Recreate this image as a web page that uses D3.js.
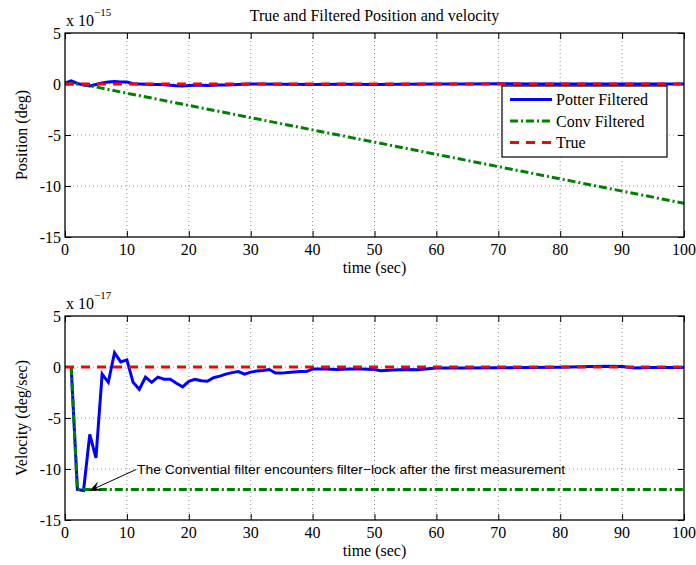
<!DOCTYPE html>
<html>
<head>
<meta charset="utf-8">
<script src="https://cdn.jsdelivr.net/npm/d3@7"></script>
<style>
  body { margin: 0; background: #fff; }
  text { font-family: "Liberation Serif", "Times New Roman", serif; fill: #000; }
</style>
</head>
<body>
<div id="canvas"></div>
<script>
// ---- data (values in units of the axis exponent) ----
const timeTicks = [0, 10, 20, 30, 40, 50, 60, 70, 80, 90, 100];
const yTicks = [5, 0, -5, -10, -15];

// position (x 1e-15 deg)
const potterPosTime = [0,1,2,3,4,5,6,7,8,9,10,11,12,13,14,15,16,17,18,19,20,21,22,23,24,25,26,27,28,29,30,35,40,45,50,55,60,65,70,75,80,85,90,95,100];
const potterPos = [0.1,0.3,0.05,-0.1,-0.2,-0.05,0.1,0.2,0.25,0.2,0.2,0.02,0,-0.02,-0.05,-0.05,-0.08,-0.12,-0.18,-0.2,-0.15,-0.12,-0.13,-0.15,-0.13,-0.1,-0.1,-0.08,-0.05,-0.02,0,-0.03,-0.05,-0.03,-0.05,-0.02,0,0,0.02,0,0,0.01,0,0,0];
const convPosTime = [0,1,2,3,10,20,30,40,50,60,70,80,90,100];
const convPos = [0,0,0,-0.05,-0.9,-2.1,-3.3,-4.5,-5.7,-6.9,-8.1,-9.3,-10.5,-11.7];
const truePosTime = [0,100];
const truePos = [0,0];

// velocity (x 1e-17 deg/sec)
const potterVelTime = [1,2,3,4,5,6,7,8,9,10,11,12,13,14,15,16,17,18,19,20,21,22,23,24,25,26,27,28,29,30,31,32,33,34,35,36,37,38,39,40,42,44,46,48,50,51,53,55,57,60,65,70,75,80,85,88,90,92,95,100];
const potterVel = [0,-12,-12.1,-6.6,-8.9,-0.7,-1.5,1.4,0.5,0.7,-1.5,-2.2,-1.0,-1.5,-1.0,-1.2,-1.2,-1.6,-1.95,-1.4,-1.2,-1.35,-1.4,-1.05,-0.9,-0.7,-0.55,-0.45,-0.7,-0.5,-0.4,-0.35,-0.25,-0.6,-0.6,-0.55,-0.5,-0.45,-0.45,-0.2,-0.2,-0.25,-0.2,-0.2,-0.25,-0.37,-0.3,-0.25,-0.27,-0.1,-0.1,-0.08,-0.05,-0.03,0.05,0.07,0.05,-0.1,-0.05,-0.05];
const convVelTime = [1,2,100];
const convVel = [0,-12,-12];
const trueVelTime = [0,100];
const trueVel = [0,0];

const seriesNames = ["Potter Filtered", "Conv Filtered", "True"];
const seriesColors = ["#0000ff", "#008000", "#ff0000"];
const seriesDash = [null, "8,3,2,3", "9,7"];

// ---- drawing ----
let drawing = d3.select("#canvas")
    .append("svg")
    .attr("width", 696)
    .attr("height", 565);

drawing.append("rect").attr("width", 696).attr("height", 565).attr("fill", "#fff");

let xLeft = 65, xRight = 684;

function zip(t, v) { return t.map((d, i) => [d, v[i]]); }

function drawPanel(top, bottom, series, yLabel, exponent, id) {
    let x = d3.scaleLinear().domain([0, 100]).range([xLeft, xRight]);
    let y = d3.scaleLinear().domain([-15, 5]).range([bottom, top]);
    let g = drawing.append("g");

    // dotted grid
    g.selectAll(".vgrid").data(timeTicks.slice(1, -1)).enter().append("line")
        .attr("x1", d => x(d)).attr("x2", d => x(d))
        .attr("y1", top).attr("y2", bottom)
        .attr("stroke", "#777").attr("stroke-width", 0.8).attr("stroke-dasharray", "1,3");
    g.selectAll(".hgrid").data(yTicks.slice(1, -1)).enter().append("line")
        .attr("x1", xLeft).attr("x2", xRight)
        .attr("y1", d => y(d)).attr("y2", d => y(d))
        .attr("stroke", "#777").attr("stroke-width", 0.8).attr("stroke-dasharray", "1,3");

    // ticks (inward, all four sides)
    let bottomAxis = d3.axisBottom(x).tickValues(timeTicks).tickSize(-6).tickFormat("");
    let topAxis = d3.axisTop(x).tickValues(timeTicks).tickSize(-6).tickFormat("");
    let leftAxis = d3.axisLeft(y).tickValues(yTicks).tickSize(-6).tickFormat("");
    let rightAxis = d3.axisRight(y).tickValues(yTicks).tickSize(-6).tickFormat("");
    [[bottomAxis, `translate(0,${bottom})`], [topAxis, `translate(0,${top})`],
     [leftAxis, `translate(${xLeft},0)`], [rightAxis, `translate(${xRight},0)`]].forEach(a => {
        let ax = g.append("g").attr("transform", a[1]).call(a[0]);
        ax.select(".domain").remove();
        ax.selectAll("line").attr("stroke", "#000").attr("stroke-width", 1);
    });

    // tick labels
    g.selectAll(".xl").data(timeTicks).enter().append("text")
        .attr("x", d => x(d)).attr("y", bottom + 18)
        .attr("text-anchor", "middle").attr("font-size", 16).text(d => d);
    g.selectAll(".yl").data(yTicks).enter().append("text")
        .attr("x", xLeft - 4).attr("y", d => y(d)).attr("dy", "0.35em")
        .attr("text-anchor", "end").attr("font-size", 16).text(d => d < 0 ? "-" + Math.abs(d) : d);

    // clip
    drawing.append("clipPath").attr("id", "clip" + id)
        .append("rect").attr("x", xLeft).attr("y", top).attr("width", xRight - xLeft).attr("height", bottom - top);

    let line = d3.line().x(d => x(d[0])).y(d => y(d[1]));
    series.forEach((s, i) => {
        g.append("path").datum(s)
            .attr("d", line)
            .attr("clip-path", `url(#clip${id})`)
            .attr("fill", "none")
            .attr("stroke", seriesColors[i])
            .attr("stroke-width", 3)
            .attr("stroke-dasharray", seriesDash[i]);
    });

    // box
    g.append("rect").attr("x", xLeft).attr("y", top)
        .attr("width", xRight - xLeft).attr("height", bottom - top)
        .attr("fill", "none").attr("stroke", "#000").attr("stroke-width", 1.3);

    // labels
    g.append("text").attr("x", (xLeft + xRight) / 2).attr("y", bottom + 36)
        .attr("text-anchor", "middle").attr("font-size", 16).text("time (sec)");
    g.append("text").attr("transform", `translate(27,${(top + bottom) / 2}) rotate(-90)`)
        .attr("text-anchor", "middle").attr("font-size", 16).text(yLabel);

    let ex = g.append("text").attr("x", xLeft + 1).attr("y", top - 7).attr("font-size", 16);
    ex.append("tspan").text("x 10");
    ex.append("tspan").attr("font-size", 11).attr("dy", -10).text("\u2212" + exponent);

    return { x: x, y: y, g: g };
}

// top panel
let topPanel = drawPanel(33, 237,
    [zip(potterPosTime, potterPos), zip(convPosTime, convPos), zip(truePosTime, truePos)],
    "Position (deg)", 15, "a");

drawing.append("text").attr("x", (xLeft + xRight) / 2).attr("y", 21)
    .attr("text-anchor", "middle").attr("font-size", 16)
    .text("True and Filtered Position and velocity");

// legend
let legend = drawing.append("g");
legend.append("rect").attr("x", 502).attr("y", 86).attr("width", 165).attr("height", 71)
    .attr("fill", "#fff").attr("stroke", "#000").attr("stroke-width", 1.2);
seriesNames.forEach((name, i) => {
    let ly = 99.5 + i * 21.5;
    legend.append("line").attr("x1", 510).attr("x2", 552).attr("y1", ly).attr("y2", ly)
        .attr("stroke", seriesColors[i]).attr("stroke-width", 3)
        .attr("stroke-dasharray", seriesDash[i]);
    legend.append("text").attr("x", 556).attr("y", ly).attr("dy", "0.35em")
        .attr("font-size", 16).text(name);
});

// bottom panel
let botPanel = drawPanel(316, 520,
    [zip(potterVelTime, potterVel), zip(convVelTime, convVel), zip(trueVelTime, trueVel)],
    "Velocity (deg/sec)", 17, "b");

// annotation arrow
let bx = botPanel.x, by = botPanel.y;
let tail = [bx(11.5), by(-10.05)], tip = [bx(3.9), by(-12.15)];
let ang = Math.atan2(tip[1] - tail[1], tip[0] - tail[0]);
let hl = 12, hw = 5;
let back = [tip[0] - hl * Math.cos(ang), tip[1] - hl * Math.sin(ang)];
let notch = [tip[0] - hl * 0.6 * Math.cos(ang), tip[1] - hl * 0.6 * Math.sin(ang)];
let p1 = [back[0] + hw * Math.sin(ang), back[1] - hw * Math.cos(ang)];
let p2 = [back[0] - hw * Math.sin(ang), back[1] + hw * Math.cos(ang)];
drawing.append("line").attr("x1", tail[0]).attr("y1", tail[1]).attr("x2", notch[0]).attr("y2", notch[1])
    .attr("stroke", "#000").attr("stroke-width", 1);
drawing.append("path").attr("d", `M${tip}L${p1}L${notch}L${p2}Z`).attr("fill", "#000");
drawing.append("text").attr("x", bx(11.65)).attr("y", by(-10.45))
    .style("font-family", "'Liberation Sans', Arial, sans-serif").attr("font-size", 12.5)
    .attr("textLength", 428).attr("lengthAdjust", "spacingAndGlyphs")
    .text("The Convential filter encounters filter\u2212lock after the first measurement");
</script>
</body>
</html>
